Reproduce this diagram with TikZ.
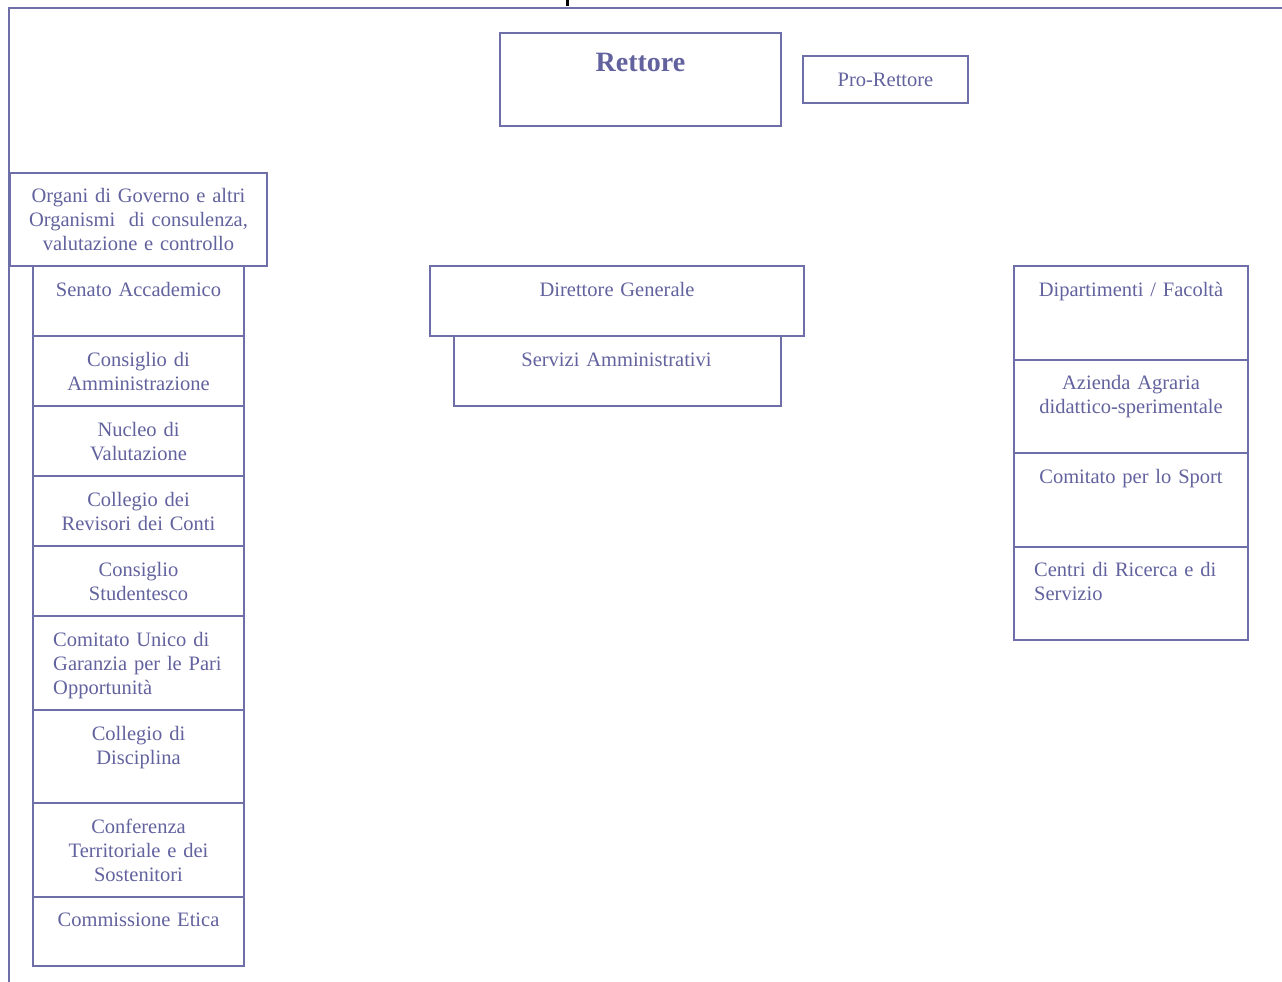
\documentclass[tikz,border=0pt]{standalone}
\usepackage{fontspec}
\setmainfont{Liberation Serif}
\definecolor{ln}{RGB}{110,110,168}
\definecolor{tx}{RGB}{98,98,158}
\newcommand\ob[5]{\node[box,anchor=north west,minimum width={#4-#2},minimum height={#5-#3}] (#1) at (#2,#3) {};}
\begin{document}
\begin{tikzpicture}[x=1pt,y=-1pt,
  box/.style={draw=ln,line width=1.8pt,inner sep=0pt,outer sep=0pt},
  txt/.style={text=tx,font=\fontsize{20.5}{24}\selectfont,inner sep=0pt,align=center,text width=250pt,anchor=base},
  ltxt/.style={text=tx,font=\fontsize{20.5}{24}\selectfont,inner sep=0pt,align=left,text width=200pt,anchor=base west},
  frame/.style={draw=ln,line width=2pt}]
\useasboundingbox (0,0) rectangle (1282,982);
% frame
\coordinate (fr) at (1282,8);
\coordinate (fc) at (9,8);
\coordinate (fb) at (9,982);
\draw[frame] (fr) -- (fc) -- (fb);
\fill[black] (566,0) rectangle (569,6);
% top
\ob{rett}{500}{33}{781}{126}
\node[txt,font=\fontsize{28}{32}\selectfont\bfseries] (rett-t) at ([yshift=-38pt]rett.north) {Rettore};
\ob{pro}{803}{56}{968}{103}
\node[txt] (pro-t) at ([yshift=-30pt]pro.north) {Pro-Rettore};
% left
\ob{org}{10}{173}{267}{266}
\node[txt] (org-t) at ([yshift=-29pt]org.north) {Organi di Governo e altri\\Organismi\ \ di consulenza,\\valutazione e controllo};
\ob{sen}{33}{266}{244}{336}
\node[txt] (sen-t) at ([yshift=-30pt]sen.north) {Senato Accademico};
\ob{cda}{33}{336}{244}{406}
\node[txt] (cda-t) at ([yshift=-30pt]cda.north) {Consiglio di\\Amministrazione};
\ob{nuc}{33}{406}{244}{476}
\node[txt] (nuc-t) at ([yshift=-30pt]nuc.north) {Nucleo di\\Valutazione};
\ob{rev}{33}{476}{244}{546}
\node[txt] (rev-t) at ([yshift=-30pt]rev.north) {Collegio dei\\Revisori dei Conti};
\ob{stu}{33}{546}{244}{616}
\node[txt] (stu-t) at ([yshift=-30pt]stu.north) {Consiglio\\Studentesco};
\ob{cug}{33}{616}{244}{710}
\node[ltxt] (cug-t) at ([xshift=20pt,yshift=-30pt]cug.north west) {Comitato Unico di\\Garanzia per le Pari\\Opportunità};
\ob{dis}{33}{710}{244}{803}
\node[txt] (dis-t) at ([yshift=-30pt]dis.north) {Collegio di\\Disciplina};
\ob{con}{33}{803}{244}{897}
\node[txt] (con-t) at ([yshift=-30pt]con.north) {Conferenza\\Territoriale e dei\\Sostenitori};
\ob{eti}{33}{897}{244}{966}
\node[txt] (eti-t) at ([yshift=-29pt]eti.north) {Commissione Etica};
% middle
\ob{dir}{430}{266}{804}{336}
\node[txt] (dir-t) at ([yshift=-30pt]dir.north) {Direttore Generale};
\ob{ser}{454}{336}{781}{406}
\node[txt] (ser-t) at ([xshift=-1pt,yshift=-30pt]ser.north) {Servizi Amministrativi};
% right
\ob{dip}{1014}{266}{1248}{360}
\node[txt] (dip-t) at ([yshift=-30pt]dip.north) {Dipartimenti / Facoltà};
\ob{azi}{1014}{360}{1248}{453}
\node[txt] (azi-t) at ([yshift=-29pt]azi.north) {Azienda Agraria\\didattico-sperimentale};
\ob{spo}{1014}{453}{1248}{547}
\node[txt] (spo-t) at ([yshift=-30pt]spo.north) {Comitato per lo Sport};
\ob{cen}{1014}{547}{1248}{640}
\node[ltxt] (cen-t) at ([xshift=20pt,yshift=-29pt]cen.north west) {Centri di Ricerca e di\\Servizio};
\end{tikzpicture}
\end{document}
